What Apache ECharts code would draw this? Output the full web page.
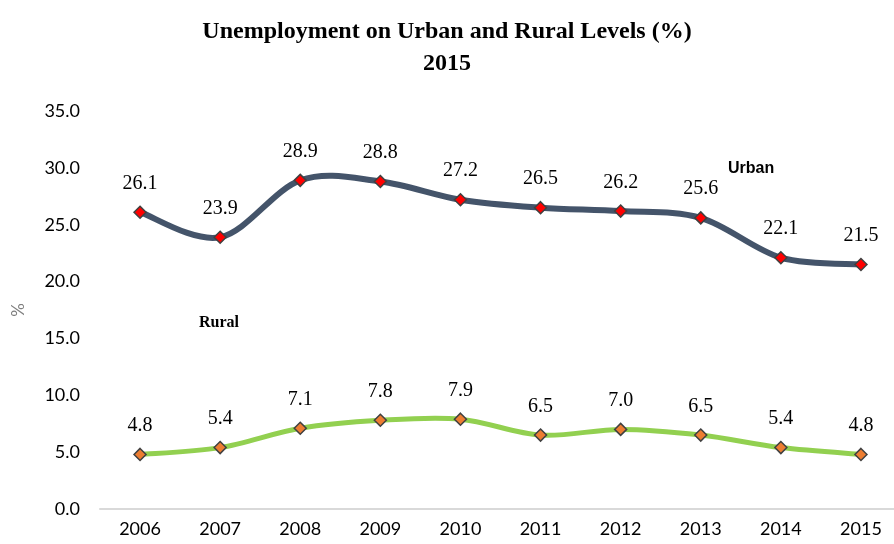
<!DOCTYPE html>
<html>
<head>
<meta charset="utf-8">
<script src="https://cdn.jsdelivr.net/npm/echarts@6/dist/echarts.min.js"></script>
<style>
  html, body { margin: 0; padding: 0; background: #ffffff; }
  #chart { width: 894px; height: 544px; }
</style>
</head>
<body>
<div id="chart"></div>
<script>
// Years on the category axis
const years = ['2006', '2007', '2008', '2009', '2010', '2011', '2012', '2013', '2014', '2015'];
// Unemployment rates (%)
const urban = [26.1, 23.9, 28.9, 28.8, 27.2, 26.5, 26.2, 25.6, 22.1, 21.5];
const rural = [4.8, 5.4, 7.1, 7.8, 7.9, 6.5, 7.0, 6.5, 5.4, 4.8];

const chart = echarts.init(document.getElementById('chart'), null, { renderer: 'canvas' });

const labelStyle = {
  show: true,
  position: 'top',
  distance: 12,
  fontFamily: '"Liberation Serif", "DejaVu Serif", serif',
  fontSize: 20,
  color: '#000000',
  formatter: p => p.value.toFixed(1)
};

// Catmull-Rom style smooth curve through all points of a series,
// positioned with the chart's own axes (api.coord).
function smoothCurve(values, color, width) {
  return function (params, api) {
    if (params.dataIndex !== 0) return null;
    const pts = values.map((v, i) => api.coord([i, v]));
    const n = pts.length;
    let d = 'M' + pts[0][0] + ' ' + pts[0][1];
    for (let i = 0; i < n - 1; i++) {
      const p0 = pts[Math.max(i - 1, 0)];
      const p1 = pts[i];
      const p2 = pts[i + 1];
      const p3 = pts[Math.min(i + 2, n - 1)];
      const c1x = p1[0] + (p2[0] - p0[0]) / 6;
      const c1y = p1[1] + (p2[1] - p0[1]) / 6;
      const c2x = p2[0] - (p3[0] - p1[0]) / 6;
      const c2y = p2[1] - (p3[1] - p1[1]) / 6;
      d += ' C' + c1x + ' ' + c1y + ' ' + c2x + ' ' + c2y + ' ' + p2[0] + ' ' + p2[1];
    }
    return {
      type: 'path',
      shape: { pathData: d },
      style: { fill: 'none', stroke: color, lineWidth: width, lineCap: 'round', lineJoin: 'round' }
    };
  };
}

chart.setOption({
  animation: false,
  title: {
    text: 'Unemployment on Urban and Rural Levels (%)\n2015',
    left: 'center',
    top: 11,
    textStyle: {
      fontFamily: '"Liberation Serif", "DejaVu Serif", serif',
      fontWeight: 'bold',
      fontSize: 24,
      lineHeight: 32,
      color: '#000000'
    }
  },
  grid: { left: 100, width: 801, top: 111, height: 398, outerBoundsMode: 'none', containLabel: false },
  xAxis: {
    type: 'category',
    data: years,
    boundaryGap: true,
    axisLine: { lineStyle: { color: '#D9D9D9', width: 2 } },
    axisTick: { show: false },
    axisLabel: {
      fontFamily: 'Lato, "Open Sans", sans-serif',
      fontSize: 18,
      color: '#000000',
      margin: 11
    }
  },
  yAxis: {
    type: 'value',
    min: 0,
    max: 35,
    interval: 5,
    name: '%',
    nameLocation: 'middle',
    nameGap: 73,
    nameRotate: 90,
    nameTextStyle: {
      fontFamily: 'Lato, "Open Sans", sans-serif',
      fontSize: 17,
      color: '#7F7F7F'
    },
    splitLine: { show: false },
    axisLine: { show: false },
    axisTick: { show: false },
    axisLabel: {
      fontFamily: 'Lato, "Open Sans", sans-serif',
      fontSize: 18,
      color: '#000000',
      margin: 20,
      formatter: v => v.toFixed(1)
    }
  },
  graphic: [
    {
      type: 'text',
      left: 728,
      top: 161,
      style: {
        text: 'Urban',
        font: 'bold 16px "Liberation Sans", Arial, sans-serif',
        fill: '#000000'
      }
    },
    {
      type: 'text',
      left: 199,
      top: 315,
      style: {
        text: 'Rural',
        font: 'bold 16px "Liberation Serif", "DejaVu Serif", serif',
        fill: '#000000'
      }
    }
  ],
  series: [
    {
      name: 'Urban curve',
      type: 'custom',
      data: [[0, urban[0]]],
      renderItem: smoothCurve(urban, '#44546A', 6),
      silent: true,
      z: 2
    },
    {
      name: 'Rural curve',
      type: 'custom',
      data: [[0, rural[0]]],
      renderItem: smoothCurve(rural, '#92D050', 5),
      silent: true,
      z: 2
    },
    {
      name: 'Urban',
      type: 'line',
      data: urban,
      symbol: 'diamond',
      symbolSize: 12,
      lineStyle: { width: 0, opacity: 0 },
      itemStyle: { color: '#FF0000', borderColor: '#404040', borderWidth: 1.5 },
      label: labelStyle,
      z: 3
    },
    {
      name: 'Rural',
      type: 'line',
      data: rural,
      symbol: 'diamond',
      symbolSize: 12,
      lineStyle: { width: 0, opacity: 0 },
      itemStyle: { color: '#ED7D31', borderColor: '#404040', borderWidth: 1.5 },
      label: labelStyle,
      z: 3
    }
  ]
});
</script>
</body>
</html>
